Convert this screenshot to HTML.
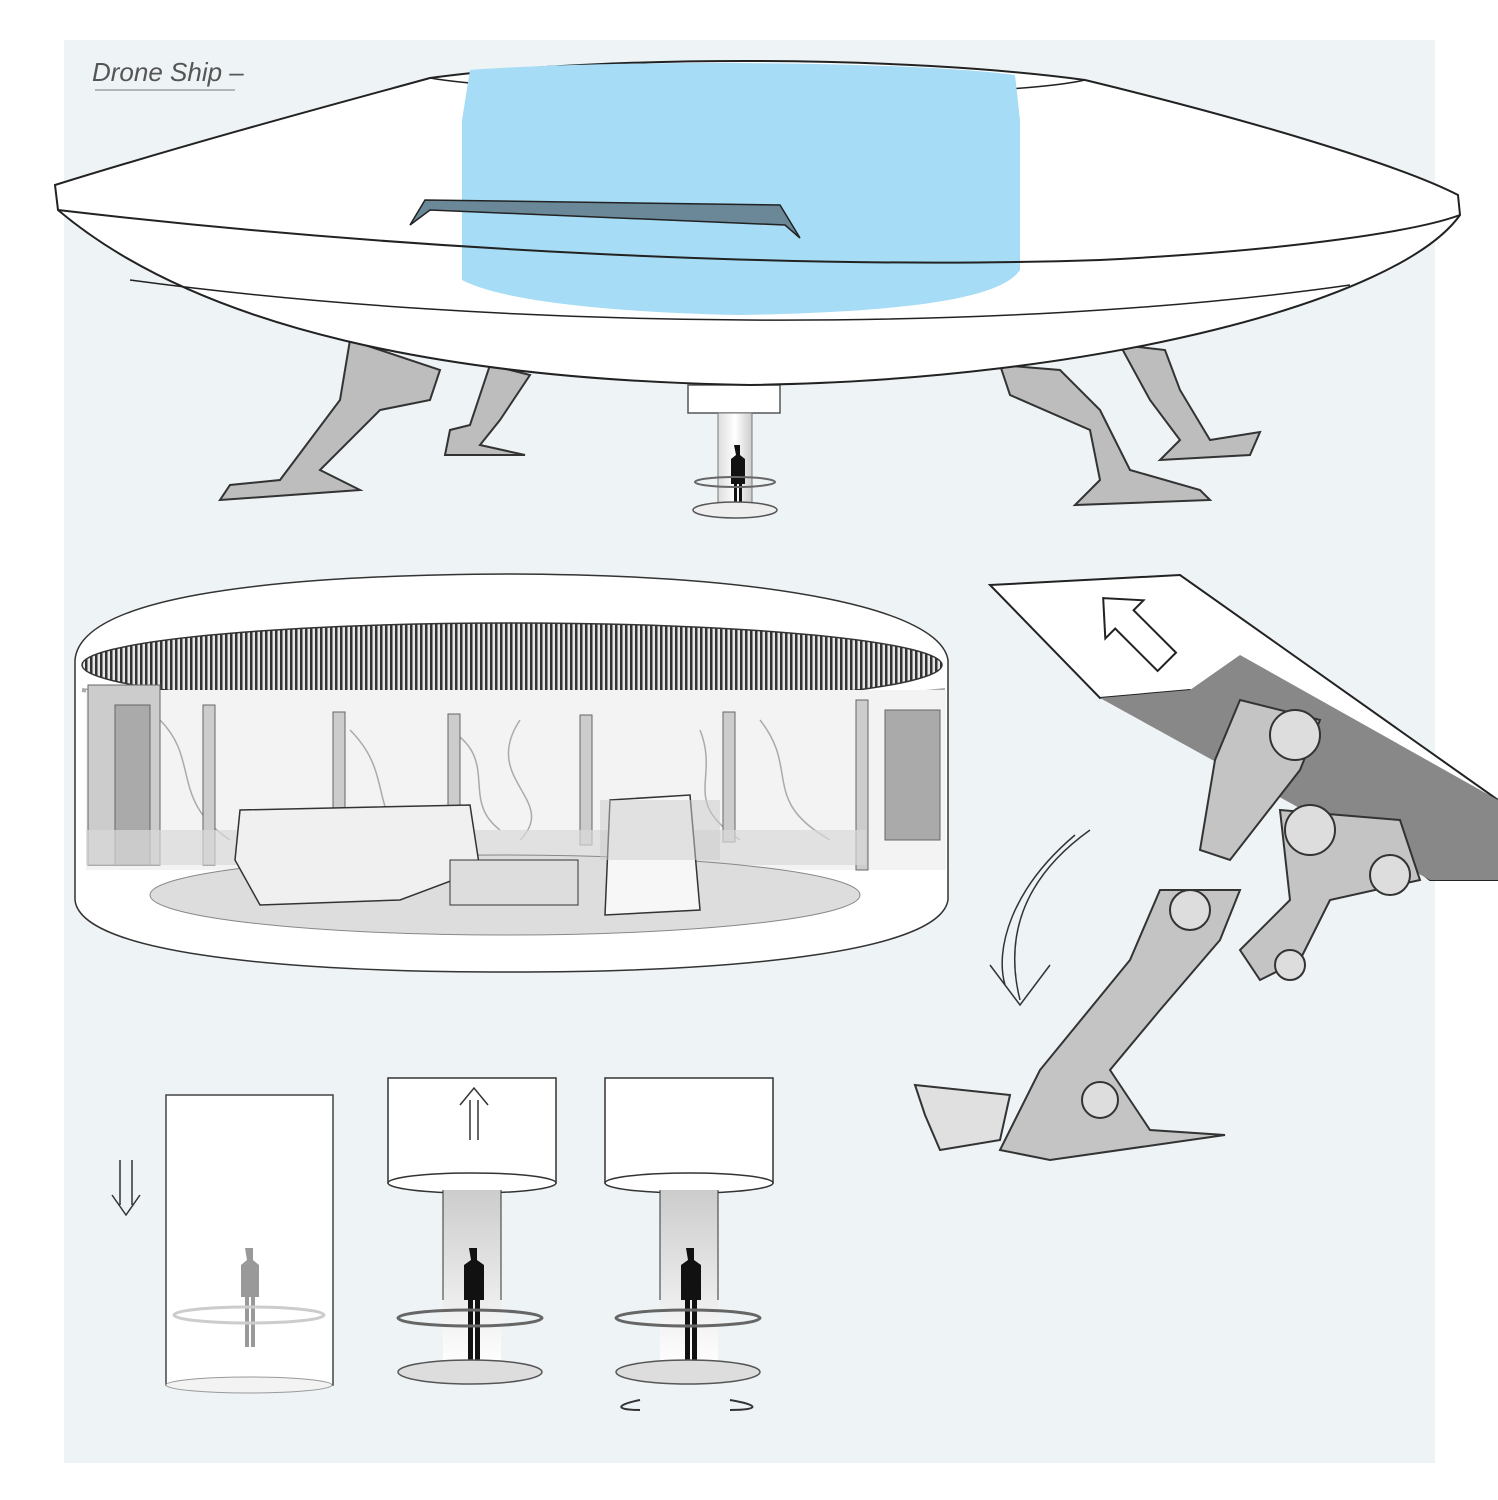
<!DOCTYPE html>
<html><head><style>
html,body{margin:0;padding:0;background:#fff;}
svg{display:block;}
</style></head><body>
<svg width="1498" height="1500" viewBox="0 0 1498 1500" xmlns="http://www.w3.org/2000/svg" font-family="Liberation Sans, sans-serif">
<defs>
<pattern id="stripes" width="5" height="10" patternUnits="userSpaceOnUse">
<rect width="5" height="10" fill="#e6e6e6"/><rect width="2.5" height="10" fill="#333"/>
</pattern>
<linearGradient id="tube" x1="0" x2="1"><stop offset="0" stop-color="#ddd"/><stop offset="0.5" stop-color="#fff"/><stop offset="1" stop-color="#ccc"/></linearGradient>
<linearGradient id="beam" x1="0" y1="0" x2="0" y2="1"><stop offset="0" stop-color="#ccc"/><stop offset="1" stop-color="#fff"/></linearGradient>
</defs>
<rect x="64" y="40" width="1371" height="1423" fill="#eef3f6"/>
<text x="92" y="81" font-size="26" font-style="italic" fill="#555">Drone Ship –</text>
<line x1="95" y1="90" x2="235" y2="90" stroke="#777" stroke-width="1"/>

<g fill="#bdbdbd" stroke="#333" stroke-width="2">
<path d="M350 340 L380 350 L440 370 L430 400 L380 410 L320 470 L360 490 L220 500 L230 485 L280 480 L340 400 Z"/>
<path d="M490 365 L530 375 L500 420 L480 445 L525 455 L445 455 L450 430 L470 425 Z"/>
<path d="M1000 365 L1060 370 L1100 410 L1130 470 L1200 490 L1210 500 L1075 505 L1100 480 L1090 430 L1010 395 Z"/>
<path d="M1120 345 L1165 350 L1180 390 L1210 440 L1260 432 L1250 455 L1160 460 L1180 440 L1150 400 Z"/>
</g>
<rect x="688" y="385" width="92" height="28" fill="#fff" stroke="#555" stroke-width="1.5"/>
<rect x="718" y="413" width="34" height="95" fill="url(#tube)" stroke="#777"/>
<path d="M734 445 h6 v10 l5 4 v25 h-3 v28 h-3 v-28 h-2 v28 h-3 v-28 h-3 v-25 l5 -4z" fill="#111"/>
<ellipse cx="735" cy="510" rx="42" ry="8" fill="#eee" stroke="#555" stroke-width="1.5"/>
<ellipse cx="735" cy="482" rx="40" ry="5" fill="none" stroke="#666" stroke-width="2"/>

<path d="M55 185 C200 140 350 100 430 78 C600 55 900 55 1085 80 C1250 120 1400 165 1458 195 L1460 215 C1400 300 1100 380 750 385 C450 380 200 330 58 210 Z" fill="#fff" stroke="#222" stroke-width="2"/>
<path d="M430 78 C500 90 700 95 800 95 C950 95 1050 88 1085 80" fill="none" stroke="#222" stroke-width="1.5"/>
<path d="M470 70 C600 60 900 60 1015 75 L1020 120 L1020 270 C1000 300 900 312 740 315 C600 312 500 300 462 280 L462 120 Z" fill="#a6dcf5"/>
<path d="M58 210 C400 250 800 270 1100 260 C1300 250 1420 230 1460 215" fill="none" stroke="#222" stroke-width="2"/>
<path d="M130 280 C500 330 1000 335 1350 285" fill="none" stroke="#222" stroke-width="1.5"/>
<path d="M410 225 L425 200 L780 205 L800 238 L785 225 L430 210 Z" fill="#6a8898" stroke="#222" stroke-width="1.5"/>

<path d="M75 660 C80 600 250 575 510 574 C780 575 940 610 948 660 L948 900 C940 950 750 972 510 972 C260 972 80 950 75 900 Z" fill="#fff" stroke="#333" stroke-width="1.5"/>
<ellipse cx="512" cy="665" rx="430" ry="42" fill="url(#stripes)" stroke="#333" stroke-width="1.5"/>
<path d="M82 690 C250 712 750 712 945 690" fill="none" stroke="#aaa" stroke-width="4"/>
<rect x="86" y="690" width="860" height="180" fill="#f3f3f3"/>
<g stroke="#aaa" fill="none" stroke-width="1.5">
<path d="M160 720 C200 760 170 800 230 840"/><path d="M350 730 C400 780 360 820 430 850"/><path d="M520 720 C480 780 560 800 520 840"/><path d="M700 730 C720 780 680 800 740 840"/><path d="M760 720 C800 770 760 800 830 840"/><path d="M450 730 C500 760 460 800 500 830"/>
</g>
<g fill="#ccc" stroke="#666">
<rect x="88" y="685" width="72" height="180"/>
<rect x="115" y="705" width="35" height="160" fill="#aaa"/>
<rect x="203" y="705" width="12" height="160"/>
<rect x="333" y="712" width="12" height="130"/>
<rect x="448" y="714" width="12" height="130"/>
<rect x="580" y="715" width="12" height="130"/>
<rect x="723" y="712" width="12" height="130"/>
<rect x="856" y="700" width="12" height="170"/>
<rect x="885" y="710" width="55" height="130" fill="#aaa"/>
</g>
<rect x="86" y="830" width="780" height="35" fill="#d8d8d8" opacity="0.7"/>
<ellipse cx="505" cy="895" rx="355" ry="40" fill="#ddd" stroke="#888"/>
<path d="M240 810 L470 805 L480 870 L400 900 L260 905 L235 860Z" fill="#f0f0f0" stroke="#333" stroke-width="1.5"/>
<rect x="450" y="860" width="128" height="45" fill="#ddd" stroke="#333"/>
<path d="M610 800 L690 795 L700 910 L605 915Z" fill="#f7f7f7" stroke="#333" stroke-width="1.5"/>
<rect x="600" y="800" width="120" height="60" fill="#ccc" opacity="0.5"/>

<path d="M990 585 L1180 575 L1498 800 L1498 880 L1430 880 L1190 690 L1100 698Z" fill="#fff" stroke="#222" stroke-width="2"/>
<path d="M1100 698 L1190 690 L1240 655 L1498 800 L1498 880 L1430 880 Z" fill="#888"/>
<g transform="rotate(-45 1135 630)">
<path d="M1135 585 L1162 615 L1148 615 L1148 675 L1122 675 L1122 615 L1108 615 Z" fill="#fff" stroke="#222" stroke-width="2"/>
</g>
<g fill="#c4c4c4" stroke="#333" stroke-width="2">
<path d="M1240 700 L1320 720 L1300 770 L1230 860 L1200 850 L1215 760Z"/>
<path d="M1280 810 L1400 820 L1420 880 L1330 900 L1300 960 L1260 980 L1240 950 L1290 900Z"/>
<path d="M1160 890 L1240 890 L1220 940 L1160 1010 L1110 1070 L1150 1130 L1225 1135 L1050 1160 L1000 1150 L1040 1070 L1130 960Z"/>
<path d="M915 1085 L1010 1095 L1000 1140 L940 1150 L925 1115Z" fill="#e0e0e0"/>
</g>
<g fill="#ddd" stroke="#333" stroke-width="2">
<circle cx="1295" cy="735" r="25"/><circle cx="1310" cy="830" r="25"/><circle cx="1390" cy="875" r="20"/><circle cx="1190" cy="910" r="20"/><circle cx="1290" cy="965" r="15"/><circle cx="1100" cy="1100" r="18"/>
</g>
<path d="M1090 830 C1020 880 1005 940 1020 1000" fill="none" stroke="#333" stroke-width="1.5"/>
<path d="M1075 835 C1010 890 995 950 1005 985" fill="none" stroke="#333" stroke-width="1.5"/>
<path d="M990 965 L1020 1005 L1050 965" fill="none" stroke="#333" stroke-width="1.5"/>

<rect x="166" y="1095" width="167" height="290" fill="#fff" stroke="#444" stroke-width="1.5"/>
<ellipse cx="249" cy="1385" rx="83" ry="8" fill="#f3f3f3" stroke="#999"/>
<path d="M245 1248 h8 v12 l6 5 v32 h-4 v50 h-4 v-50 h-2 v50 h-4 v-50 h-4 v-32 l6 -5z" fill="#999"/>
<ellipse cx="249" cy="1315" rx="75" ry="8" fill="none" stroke="#ccc" stroke-width="3"/>
<path d="M120 1160 v45 M132 1160 v45 M112 1195 L126 1215 L140 1195" fill="none" stroke="#333" stroke-width="1.5"/>

<rect x="388" y="1078" width="168" height="105" fill="#fff" stroke="#333" stroke-width="1.5"/>
<ellipse cx="472" cy="1183" rx="84" ry="10" fill="#fff" stroke="#333" stroke-width="1.5"/>
<rect x="443" y="1190" width="58" height="175" fill="url(#beam)"/>
<line x1="443" y1="1190" x2="443" y2="1300" stroke="#333"/><line x1="501" y1="1190" x2="501" y2="1300" stroke="#333"/>
<path d="M469 1248 h8 v12 l7 5 v35 h-4 v60 h-5 v-60 h-2 v60 h-5 v-60 h-4 v-35 l7 -5z" fill="#111"/>
<ellipse cx="470" cy="1318" rx="72" ry="8" fill="none" stroke="#666" stroke-width="3"/>
<ellipse cx="470" cy="1372" rx="72" ry="12" fill="#ddd" stroke="#555" stroke-width="1.5"/>
<path d="M470 1140 v-40 M478 1140 v-40 M460 1105 L474 1088 L488 1105" fill="none" stroke="#333" stroke-width="1.5"/>

<rect x="605" y="1078" width="168" height="105" fill="#fff" stroke="#333" stroke-width="1.5"/>
<ellipse cx="689" cy="1183" rx="84" ry="10" fill="#fff" stroke="#333" stroke-width="1.5"/>
<rect x="660" y="1190" width="58" height="175" fill="url(#beam)"/>
<line x1="660" y1="1190" x2="660" y2="1300" stroke="#333"/><line x1="718" y1="1190" x2="718" y2="1300" stroke="#333"/>
<path d="M686 1248 h8 v12 l7 5 v35 h-4 v60 h-5 v-60 h-2 v60 h-5 v-60 h-4 v-35 l7 -5z" fill="#111"/>
<ellipse cx="688" cy="1318" rx="72" ry="8" fill="none" stroke="#666" stroke-width="3"/>
<ellipse cx="688" cy="1372" rx="72" ry="12" fill="#ddd" stroke="#555" stroke-width="1.5"/>
<path d="M640 1400 C615 1405 615 1410 640 1410" fill="none" stroke="#333" stroke-width="2"/>
<path d="M730 1400 C760 1405 760 1410 730 1410" fill="none" stroke="#333" stroke-width="2"/>
</svg>
</body></html>
